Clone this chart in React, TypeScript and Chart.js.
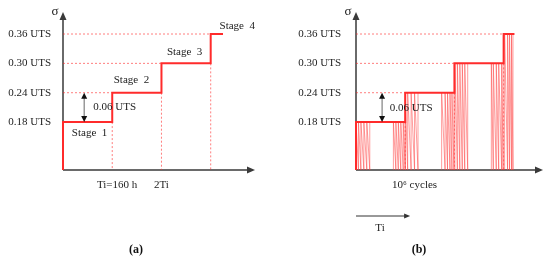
import React, { useEffect, useRef } from "react";
import { Chart, registerables } from "chart.js";

Chart.register(...registerables);

// ---------------- data ----------------
const levels = [0.18, 0.24, 0.3, 0.36];
const levelLabels = ["0.18 UTS", "0.24 UTS", "0.30 UTS", "0.36 UTS"];
const stageStarts = [0, 1, 2, 3];
const stageNames = ["Stage  1", "Stage  2", "Stage  3", "Stage  4"];
const deltaLabel = "0.06 UTS";
const yMin = 0.082;
const yMax = 0.405;
const stepEndA = 3.25;
const stepEndB = 3.22;
const xTickValuesA = [1.1, 2];
const xTickLabelsA = ["Ti=160 h", "2Ti"];
const xTickValuesB = [1.19];
const xTickLabelsB = ["10\u2076 cycles"];

// cyclic loading bursts (panel b): peak positions and peak level
const cyclePeaks1 = [0, 0.05, 0.1, 0.16, 0.22, 0.28];
const cyclePeaks2 = [0.76, 0.81, 0.86, 0.91, 0.96, 1.0];
const cyclePeaks3 = [1.0, 1.05, 1.12, 1.19, 1.26];
const cyclePeaks4 = [1.74, 1.81, 1.86, 1.91, 1.95, 1.99];
const cyclePeaks5 = [2.01, 2.06, 2.11, 2.16, 2.21, 2.27];
const cyclePeaks6 = [2.75, 2.79, 2.85, 2.9, 2.96, 2.99];
const cyclePeaks7 = [3.02, 3.08, 3.12, 3.16, 3.19];
const cycleGroups = [cyclePeaks1, cyclePeaks2, cyclePeaks3, cyclePeaks4, cyclePeaks5, cyclePeaks6, cyclePeaks7];
const cycleTops = [0.18, 0.18, 0.24, 0.24, 0.3, 0.3, 0.36];

// ---------------- helpers ----------------
const FONT = "'Liberation Serif', 'Times New Roman', serif";
const RED = "#ff2b2b";
const DOT_RED = "rgba(255,40,40,0.6)";
const CYC_RED = "rgba(255,60,60,0.5)";

function stepPoints(end: number) {
  const pts: { x: number; y: number }[] = [{ x: stageStarts[0], y: yMin }];
  for (let i = 0; i < levels.length; i++) {
    const x0 = stageStarts[i];
    const x1 = i + 1 < stageStarts.length ? stageStarts[i + 1] : end;
    pts.push({ x: x0, y: levels[i] }, { x: x1, y: levels[i] });
  }
  return pts;
}

function refDatasets() {
  const ds: any[] = [];
  for (let i = 1; i < levels.length; i++) {
    ds.push(line([{ x: 0, y: levels[i] }, { x: stageStarts[i], y: levels[i] }], DOT_RED, 1, [2, 2]));
    ds.push(line([{ x: stageStarts[i], y: levels[i - 1] }, { x: stageStarts[i], y: yMin }], DOT_RED, 1, [2, 2]));
  }
  return ds;
}

function cycleDatasets() {
  return cycleGroups.map((peaks, g) => {
    const pts: { x: number; y: number }[] = [];
    peaks.forEach((p) => {
      pts.push({ x: p, y: yMin }, { x: p, y: cycleTops[g] });
    });
    return line(pts, CYC_RED, 1);
  });
}

function line(data: any[], color: string, width: number, dash?: number[]) {
  return {
    type: "line",
    data,
    borderColor: color,
    borderWidth: width,
    borderDash: dash || [],
    pointRadius: 0,
    tension: 0,
    fill: false,
    clip: false,
  };
}

function head(ctx: CanvasRenderingContext2D, x: number, y: number, dir: string, len: number, half: number) {
  ctx.beginPath();
  if (dir === "up") {
    ctx.moveTo(x, y);
    ctx.lineTo(x - half, y + len);
    ctx.lineTo(x + half, y + len);
  } else if (dir === "down") {
    ctx.moveTo(x, y);
    ctx.lineTo(x - half, y - len);
    ctx.lineTo(x + half, y - len);
  } else {
    ctx.moveTo(x, y);
    ctx.lineTo(x - len, y - half);
    ctx.lineTo(x - len, y + half);
  }
  ctx.closePath();
  ctx.fill();
}

type Note = { text: string; x: number; y: number };
type PanelCfg = {
  notes: Note[];
  arrowX: number;
  caption: string;
  captionX: number;
  tiArrow: boolean;
};

function makePlugin(cfg: PanelCfg) {
  return {
    id: "schematic",
    beforeDatasetsDraw(chart: any) {
      const { ctx, chartArea: a } = chart;
      ctx.save();
      ctx.strokeStyle = "#3a3a3a";
      ctx.fillStyle = "#3a3a3a";
      ctx.lineWidth = 1.5;
      ctx.beginPath();
      ctx.moveTo(a.left, a.bottom);
      ctx.lineTo(a.left, a.top + 5);
      ctx.moveTo(a.left, a.bottom);
      ctx.lineTo(a.right - 5, a.bottom);
      ctx.stroke();
      head(ctx, a.left, a.top, "up", 8, 3.5);
      head(ctx, a.right, a.bottom, "right", 8, 3.5);
      ctx.restore();
    },
    afterDatasetsDraw(chart: any) {
      const { ctx, chartArea: a, scales } = chart;
      const xs = scales.x;
      const ys = scales.y;
      ctx.save();
      // sigma
      ctx.fillStyle = "#222";
      ctx.font = `13px ${FONT}`;
      ctx.textAlign = "center";
      ctx.textBaseline = "middle";
      ctx.fillText("\u03c3", a.left - 8, a.top);
      // notes
      ctx.font = `11px ${FONT}`;
      cfg.notes.forEach((n) => {
        ctx.fillText(n.text, xs.getPixelForValue(n.x), ys.getPixelForValue(n.y));
      });
      // double arrow
      const ax = xs.getPixelForValue(cfg.arrowX);
      const y1 = ys.getPixelForValue(levels[1]);
      const y0 = ys.getPixelForValue(levels[0]);
      ctx.strokeStyle = "#666";
      ctx.lineWidth = 1;
      ctx.beginPath();
      ctx.moveTo(ax, y1 + 4);
      ctx.lineTo(ax, y0 - 4);
      ctx.stroke();
      ctx.fillStyle = "#111";
      head(ctx, ax, y1, "up", 6, 3);
      head(ctx, ax, y0, "down", 6, 3);
      // Ti arrow (panel b)
      if (cfg.tiArrow) {
        const yy = a.bottom + 46;
        const xe = xs.getPixelForValue(1.1);
        ctx.strokeStyle = "#333";
        ctx.beginPath();
        ctx.moveTo(a.left, yy);
        ctx.lineTo(xe - 4, yy);
        ctx.stroke();
        ctx.fillStyle = "#333";
        head(ctx, xe, yy, "right", 6, 2.5);
        ctx.fillStyle = "#222";
        ctx.font = `11px ${FONT}`;
        ctx.fillText("Ti", a.left + 24, yy + 12);
      }
      // caption
      ctx.fillStyle = "#111";
      ctx.font = `bold 12px ${FONT}`;
      ctx.fillText(cfg.caption, cfg.captionX, 250);
      ctx.restore();
    },
  };
}

function buildConfig(variant: "a" | "b") {
  const isA = variant === "a";
  const axisW = isA ? 63 : 81;
  const xMax = isA ? 3.9 : 3.8;
  const tickVals = isA ? xTickValuesA : xTickValuesB;
  const tickLabels = isA ? xTickLabelsA : xTickLabelsB;
  const datasets: any[] = [line(stepPoints(isA ? stepEndA : stepEndB), RED, 2)];
  if (!isA) datasets.push(...cycleDatasets());
  datasets.push(...refDatasets());

  const notes: Note[] = isA
    ? [
        { text: stageNames[0], x: 0.54, y: 0.1575 },
        { text: stageNames[1], x: 1.39, y: 0.266 },
        { text: stageNames[2], x: 2.47, y: 0.323 },
        { text: stageNames[3], x: 3.54, y: 0.376 },
        { text: deltaLabel, x: 1.05, y: 0.211 },
      ]
    : [{ text: deltaLabel, x: 1.12, y: 0.209 }];

  const plugin = makePlugin({
    notes,
    arrowX: isA ? 0.43 : 0.53,
    caption: isA ? "(a)" : "(b)",
    captionX: isA ? 136 : 144,
    tiArrow: !isA,
  });

  const zeroPad = (s: any) => {
    s.paddingTop = 0;
    s.paddingBottom = 0;
    s.paddingLeft = 0;
    s.paddingRight = 0;
  };

  return {
    type: "line",
    data: { datasets },
    plugins: [plugin],
    options: {
      responsive: false,
      animation: false,
      events: [],
      layout: { padding: { left: 0, right: isA ? 20 : 7, top: 12, bottom: 0 } },
      plugins: { legend: { display: false }, tooltip: { enabled: false }, title: { display: false } },
      scales: {
        x: {
          type: "linear",
          min: 0,
          max: xMax,
          grid: { display: false, drawTicks: false },
          border: { display: false },
          afterBuildTicks: (s: any) => {
            s.ticks = tickVals.map((v) => ({ value: v }));
          },
          afterFit: (s: any) => {
            s.height = 94;
            zeroPad(s);
          },
          ticks: {
            autoSkip: false,
            maxRotation: 0,
            padding: 9,
            color: "#222",
            font: { family: FONT, size: 11 },
            callback: (_v: any, i: number) => tickLabels[i],
          },
        },
        y: {
          type: "linear",
          min: yMin,
          max: yMax,
          grid: { display: false, drawTicks: false },
          border: { display: false },
          afterBuildTicks: (s: any) => {
            s.ticks = levels.map((v) => ({ value: v }));
          },
          afterFit: (s: any) => {
            s.width = axisW;
            zeroPad(s);
          },
          ticks: {
            autoSkip: false,
            padding: isA ? 12 : 15,
            color: "#222",
            font: { family: FONT, size: 11 },
            callback: (_v: any, i: number) => levelLabels[i],
          },
        },
      },
    },
  };
}

function Panel({ variant, left }: { variant: "a" | "b"; left: number }) {
  const ref = useRef<HTMLCanvasElement>(null);
  useEffect(() => {
    const chart = new Chart(ref.current as HTMLCanvasElement, buildConfig(variant) as any);
    return () => chart.destroy();
  }, [variant]);
  return (
    <div style={{ position: "absolute", left, top: 0, width: 275, height: 264 }}>
      <canvas ref={ref} width={275} height={264} style={{ display: "block", width: 275, height: 264 }} />
    </div>
  );
}

export default function App() {
  return (
    <div style={{ position: "absolute", left: 0, top: 0, width: 550, height: 264, background: "#fff" }}>
      <Panel variant="a" left={0} />
      <Panel variant="b" left={275} />
    </div>
  );
}
